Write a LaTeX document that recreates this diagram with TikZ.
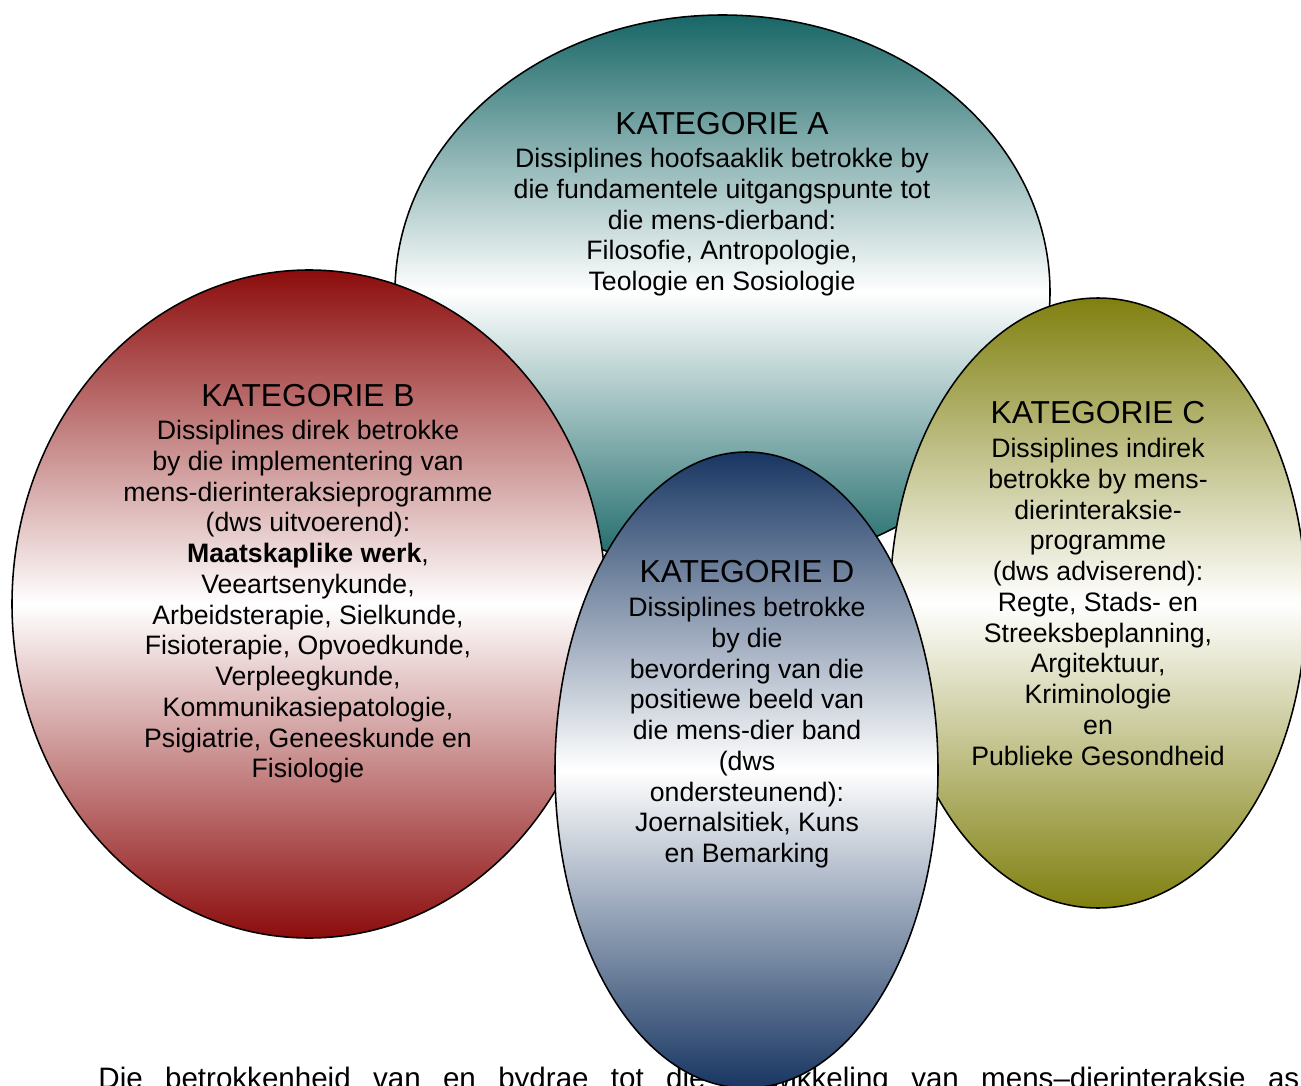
\documentclass[tikz,border=0pt]{standalone}
\usepackage{fontspec}
\setmainfont{Liberation Sans}
\usetikzlibrary{shapes.geometric}

\definecolor{katA}{RGB}{24,102,102}
\definecolor{katB}{RGB}{140,12,12}
\definecolor{katC}{RGB}{128,128,16}
\definecolor{katD}{RGB}{24,54,98}

\begin{document}
\begin{tikzpicture}[x=0.45pt,y=-0.45pt,
	blob/.style={ellipse,draw,line width=0.7pt,inner sep=0pt,top color=#1,bottom color=#1,middle color=white},
	blobtext/.style={align=center,anchor=north,inner sep=0pt,font=\fontsize{12}{13.84}\selectfont}]
	\newcommand{\pxunit}{0.45pt}%one pixel of the picture
	\newcommand{\kop}[1]{{\fontsize{14.3}{13.84}\selectfont #1}}
	
	\useasboundingbox (0,0) rectangle (1301,1086);
	
	% line of body text, half behind D
	\node[anchor=base west,inner sep=0pt,font=\fontsize{13.3}{16}\selectfont] (onder) at (98,1088)
		{\makebox[540.45pt][s]{Die betrokkenheid van en bydrae tot die ontwikkeling van mens–dierinteraksie as}};
	
	\node[blob=katA,minimum width=655*\pxunit,minimum height=554*\pxunit] (katA) at (722.5,292) {};
	\node[blobtext] (tekstA) at (722,112) {\kop{KATEGORIE A}\\[1pt]
		Dissiplines hoofsaaklik betrokke by\\
		die fundamentele uitgangspunte tot\\
		die mens-dierband:\\
		Filosofie, Antropologie,\\
		Teologie en Sosiologie};
	
	\node[blob=katB,minimum width=594*\pxunit,minimum height=668*\pxunit] (katB) at (309,604) {};
	\node[blobtext] (tekstB) at (308,384) {\kop{KATEGORIE B}\\[1pt]
		Dissiplines direk betrokke\\
		by die implementering van\\
		mens-dierinteraksieprogramme\\
		(dws uitvoerend):\\
		\textbf{Maatskaplike werk},\\
		Veeartsenykunde,\\
		Arbeidsterapie, Sielkunde,\\
		Fisioterapie, Opvoedkunde,\\
		Verpleegkunde,\\
		Kommunikasiepatologie,\\
		Psigiatrie, Geneeskunde en\\
		Fisiologie};
	
	\node[blob=katC,minimum width=416*\pxunit,minimum height=610*\pxunit] (katC) at (1098,603) {};
	\node[blobtext] (tekstC) at (1098,401) {\kop{KATEGORIE C}\\[1.4pt]
		Dissiplines indirek\\
		betrokke by mens-\\
		dierinteraksie-\\
		programme\\
		(dws adviserend):\\
		Regte, Stads- en\\
		Streeksbeplanning,\\
		Argitektuur,\\
		Kriminologie\\
		en\\
		Publieke Gesondheid};
	
	\node[blob=katD,minimum width=383*\pxunit,minimum height=636*\pxunit] (katD) at (746.5,770) {};
	\node[blobtext] (tekstD) at (747,560) {\kop{KATEGORIE D}\\[1.4pt]
		Dissiplines betrokke\\
		by die\\
		bevordering van die\\
		positiewe beeld van\\
		die mens-dier band\\
		(dws\\
		ondersteunend):\\
		Joernalsitiek, Kuns\\
		en Bemarking};
	
\end{tikzpicture}
\end{document}
